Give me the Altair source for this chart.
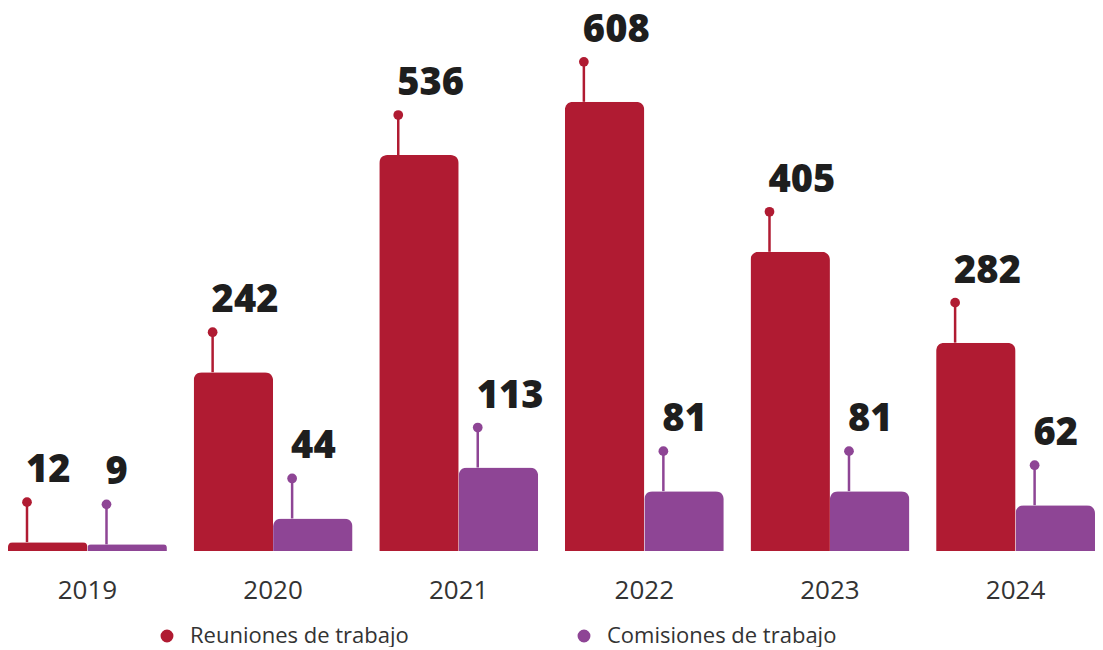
import altair as alt
import pandas as pd

years = ["2019", "2020", "2021", "2022", "2023", "2024"]
reuniones = [12, 242, 536, 608, 405, 282]
comisiones = [9, 44, 113, 81, 81, 62]
series_names = ["Reuniones de trabajo", "Comisiones de trabajo"]
colors = ["#B01B32", "#8E4595"]

rows = []
for i, y in enumerate(years):
    rows.append({"year": y, "serie": series_names[0], "value": reuniones[i]})
    rows.append({"year": y, "serie": series_names[1], "value": comisiones[i]})
df = pd.DataFrame(rows)

FONT = "Open Sans"

x = alt.X("year:N", title=None, sort=years,
          scale=alt.Scale(paddingInner=0.144, paddingOuter=0),
          axis=alt.Axis(domain=False, ticks=False, labelAngle=0, labelFontSize=26,
                        labelFont=FONT, labelColor="#333333", labelPadding=26))
xo = alt.XOffset("serie:N", sort=series_names, scale=alt.Scale(paddingInner=0, paddingOuter=0))
xo_pin = alt.XOffset("serie:N", sort=series_names,
                     scale=alt.Scale(type="point", range=[19, 98.5], padding=0))
y = alt.Y("value:Q", title=None, scale=alt.Scale(domain=[0, 735], nice=False),
          axis=None)
color = alt.Color("serie:N", sort=series_names,
                  scale=alt.Scale(domain=series_names, range=colors),
                  legend=alt.Legend(title=None, orient="none", legendX=148, legendY=617,
                                    direction="horizontal", columns=2,
                                    symbolType="circle", symbolSize=130,
                                    labelFont=FONT, labelFontSize=22, labelColor="#333333",
                                    columnPadding=164, labelOffset=12, labelLimit=400))

base = alt.Chart(df)

bars = base.mark_bar(cornerRadiusTopLeft=8, cornerRadiusTopRight=8).encode(
    x=x, xOffset=xo, y=y, color=color)

pins = base.mark_rule(strokeWidth=2.5, y2Offset=-40).encode(
    x=x, xOffset=xo_pin, y=y, y2="value:Q", color=color)

dots = base.mark_point(filled=True, opacity=1, size=95, shape="circle",
                       yOffset=-40).encode(
    x=x, xOffset=xo_pin, y=y, color=color)

labels = base.mark_text(align="left", baseline="alphabetic", font=FONT,
                        fontWeight=800, fontSize=38, color="#1e1e1e",
                        dx=-1, yOffset=-60).encode(
    x=x, xOffset=xo_pin, y=y, text="value:Q")

chart = alt.layer(bars, pins, dots, labels).resolve_scale(
    xOffset="independent"
).properties(
    width=1087, height=543, padding=0
).configure_view(stroke=None)

chart.save("out.html", embed_options={"renderer": "svg", "actions": False})
